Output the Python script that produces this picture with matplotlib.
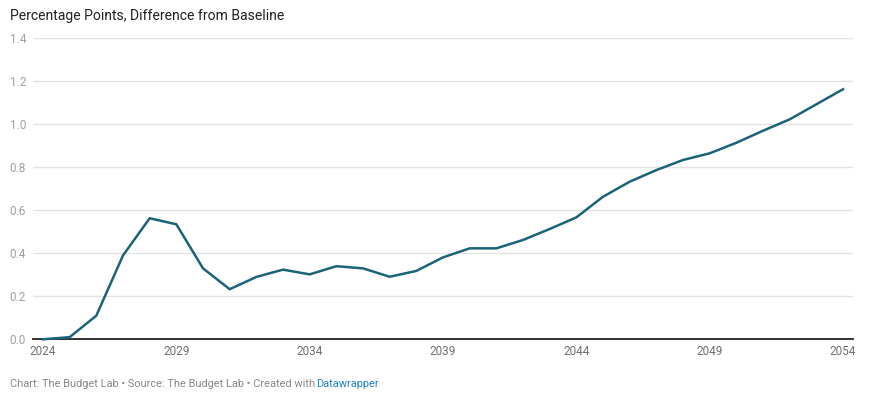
"""
Percentage points difference from baseline, 2024-2054 (Budget Lab style line chart).
Saves: out.png
"""

import matplotlib.pyplot as plt

plt.rcParams["font.family"] = ["Roboto", "DejaVu Sans"]

# ─── Data ────────────────────────────────────────────────────────────────────
years = list(range(2024, 2055))
values = [0.00, 0.01, 0.11, 0.39, 0.563, 0.535, 0.33, 0.233, 0.29, 0.324,
          0.302, 0.34, 0.33, 0.291, 0.318, 0.381, 0.423, 0.423, 0.462, 0.513,
          0.567, 0.663, 0.733, 0.787, 0.834, 0.865, 0.914, 0.97, 1.023, 1.093,
          1.163]
x_ticks = [2024, 2029, 2034, 2039, 2044, 2049, 2054]
y_ticks = [0.0, 0.2, 0.4, 0.6, 0.8, 1.0, 1.2, 1.4]

title = "Percentage Points, Difference from Baseline"
footer = "Chart: The Budget Lab \u2022 Source: The Budget Lab \u2022 Created with"

# ─── Figure ──────────────────────────────────────────────────────────────────
W, H = 871, 395
fig = plt.figure(figsize=(W / 100, H / 100), dpi=100)
# axes box in pixels: left 33, right 853, top 38.3, bottom 339.3
ax = fig.add_axes([33 / W, 1 - 339.3 / H, 820 / W, 301 / H])

ax.plot(years, values, color="#1b6379", linewidth=1.8, zorder=3,
        clip_on=False, solid_joinstyle="miter")

pad = 10 / 26.67
ax.set_xlim(2024 - pad, 2054 + pad)
ax.set_ylim(0, 1.4)

ax.set_yticks(y_ticks)
ax.set_yticklabels([f"{v:.1f}" for v in y_ticks])
ax.set_xticks(x_ticks)
ax.set_xticklabels([str(y) for y in x_ticks])

ax.yaxis.grid(True, color="#e3e3e3", linewidth=1.0, zorder=1)
ax.set_axisbelow(True)

for side in ["top", "right", "left"]:
    ax.spines[side].set_visible(False)
ax.spines["bottom"].set_color("#222222")
ax.spines["bottom"].set_linewidth(1.3)
ax.spines["bottom"].set_zorder(2)

ax.tick_params(axis="y", length=0, pad=5, labelsize=8.5, labelcolor="#a0a0a0")
ax.tick_params(axis="x", length=0, pad=4, labelsize=8.5, labelcolor="#707070")

# Title
fig.text(10 / W, 1 - 16 / H, title, fontsize=10.1, color="#222222",
         ha="left", va="center")

# Footer
t = fig.text(10 / W, 1 - 384 / H, footer, fontsize=7.9, color="#888888",
             ha="left", va="center")
fig.canvas.draw()
bb = t.get_window_extent()
fig.text((bb.x1 + 0.5) / W, 1 - 384 / H, "Datawrapper", fontsize=7.9,
         color="#1d81c9", ha="left", va="center")

fig.savefig("out.png", dpi=100, facecolor="white")
plt.close(fig)
